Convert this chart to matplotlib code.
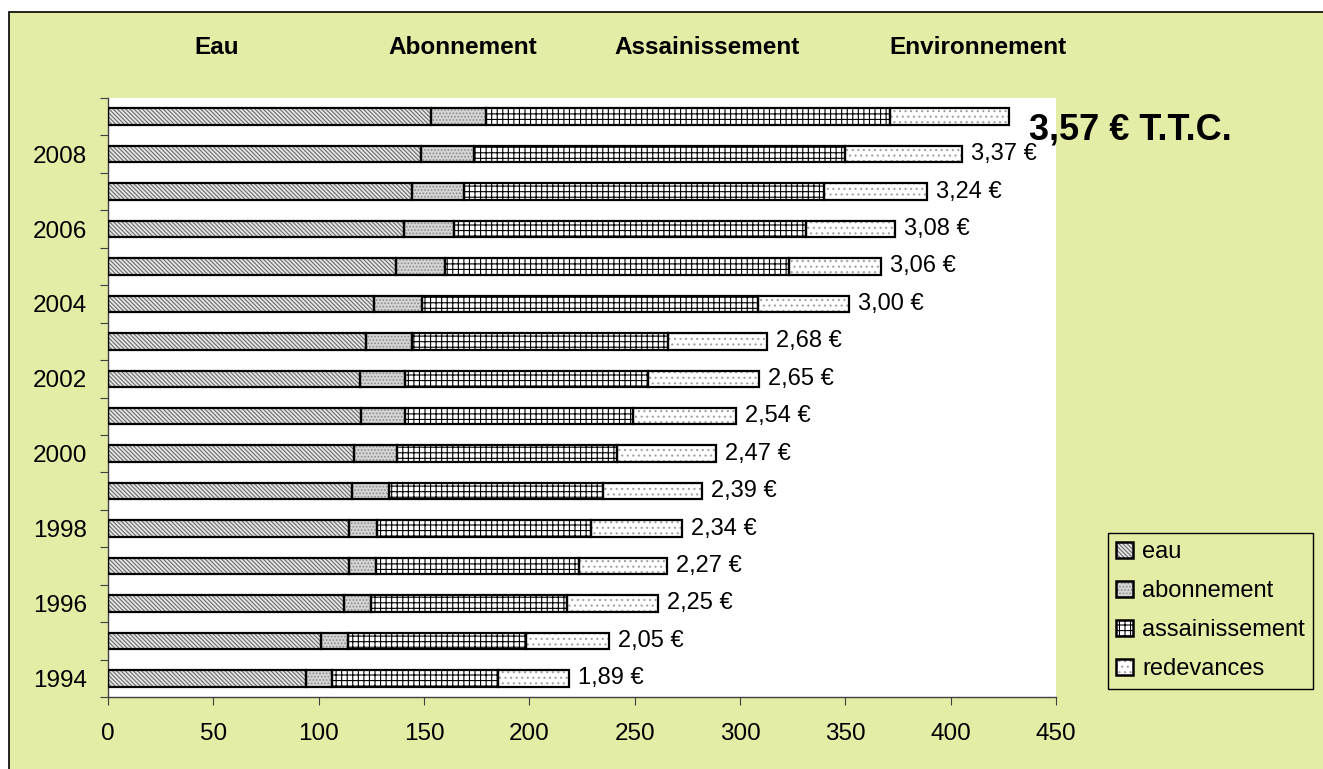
import numpy as np
import matplotlib.pyplot as plt
from matplotlib.patches import Patch, Rectangle

plt.rcParams['font.family'] = ['Liberation Sans', 'DejaVu Sans']
plt.rcParams['hatch.linewidth'] = 0.8

# prix du m3 et decomposition de la facture
annees = list(range(1994, 2010))
eau = [93.9, 101.1, 111.9, 114.3, 114.6, 116.0, 117.0, 120.3,
       119.5, 122.7, 126.3, 136.8, 140.4, 144.3, 148.6, 153.4]
abonnement = [12.5, 13.0, 13.0, 13.1, 13.1, 17.6, 20.1, 20.7,
              21.5, 21.8, 22.7, 23.1, 23.9, 24.6, 25.2, 26.1]
assainissement = [78.6, 84.4, 92.9, 96.2, 101.5, 101.3, 104.3, 108.0,
                  115.3, 121.4, 159.5, 163.3, 167.0, 170.9, 176.2, 191.8]
redevances = [34.0, 39.4, 43.2, 41.7, 43.2, 47.2, 47.3, 48.9,
              52.7, 47.0, 43.2, 43.7, 42.5, 49.1, 55.4, 56.5]
prix = [1.89, 2.05, 2.25, 2.27, 2.34, 2.39, 2.47, 2.54,
        2.65, 2.68, 3.00, 3.06, 3.08, 3.24, 3.37, 3.57]
entetes = ['Eau', 'Abonnement', 'Assainissement', 'Environnement']

bg = '#E4ECA6'

fig = plt.figure(figsize=(13.23, 7.69), dpi=100)
fig.patch.set_facecolor('white')
fig.patches.append(Rectangle((9 / 1323, -0.01), 1.0, 1 - 12 / 769 + 0.01,
                             transform=fig.transFigure, facecolor=bg,
                             edgecolor='black', linewidth=1.2, zorder=-10))

ax = fig.add_axes([108 / 1323, 1 - 697 / 769, 948 / 1323, 599 / 769])
ax.set_facecolor('white')

y = np.arange(len(annees))
h = 0.44

series = [
    ('eau', eau, '#E6E6E6', '#6A6A6A', '\\\\\\\\\\\\\\\\'),
    ('abonnement', abonnement, '#D4D4D4', '#8C8C8C', '.....'),
    ('assainissement', assainissement, 'white', 'black', '+++'),
    ('redevances', redevances, 'white', '#A0A0A0', '...'),
]

left = np.zeros(len(annees))
handles = []
for name, vals, face, hcol, hatch in series:
    vals = np.array(vals)
    ax.barh(y, vals, left=left, height=h, color=face, edgecolor=hcol,
            hatch=hatch, linewidth=0, zorder=2)
    ax.barh(y, vals, left=left, height=h, fill=False, edgecolor='black',
            linewidth=1.6, zorder=3)
    left = left + vals
    handles.append((Patch(facecolor=face, edgecolor=hcol, hatch=hatch,
                          linewidth=0),
                    Patch(fill=False, edgecolor='black', linewidth=1.8)))

totals = left
for i, (t, p) in enumerate(zip(totals, prix)):
    txt = ('%.2f' % p).replace('.', ',') + ' €'
    if i == len(prix) - 1:
        ax.annotate(txt + ' T.T.C.', (t, i), xytext=(20, -13),
                    textcoords='offset pixels', ha='left', va='center',
                    fontsize=26, fontweight='bold', annotation_clip=False)
    else:
        ax.annotate(txt, (t, i), xytext=(9, 0), textcoords='offset pixels',
                    ha='left', va='center', fontsize=17)

ax.set_xlim(0, 450)
ax.set_ylim(-0.5, len(annees) - 0.5)
ax.set_xticks(np.arange(0, 451, 50))
ax.tick_params(axis='x', direction='out', length=6, labelsize=17.5, pad=13,
               color='#404040')
ax.set_yticks(np.arange(-0.5, len(annees), 1.0))
ax.set_yticklabels([])
ax.tick_params(axis='y', which='major', direction='out', length=6,
               color='#404040')
ax.set_yticks(y[::2], minor=True)
ax.set_yticklabels([str(a) for a in annees[::2]], minor=True)
ax.tick_params(axis='y', which='minor', length=0, labelsize=17.5, pad=15)

for s in ['top', 'right']:
    ax.spines[s].set_visible(False)
for s in ['left', 'bottom']:
    ax.spines[s].set_color('#404040')
    ax.spines[s].set_linewidth(1.0)

for txt, xc in zip(entetes, [217, 463, 707, 978]):
    fig.text(xc / 1323, 1 - 48 / 769, txt, ha='center', va='center',
             fontsize=17.5, fontweight='bold')

leg = fig.legend(handles, [s[0] for s in series], loc='upper left',
                 bbox_to_anchor=(1108 / 1323, 1 - 533 / 769), fontsize=17,
                 frameon=True, fancybox=False, edgecolor='black',
                 facecolor=bg, framealpha=1, borderpad=0.35,
                 handlelength=0.7, handleheight=0.7, handletextpad=0.4,
                 labelspacing=0.72, borderaxespad=0)
leg.get_frame().set_linewidth(1.0)

fig.savefig('out.png', dpi=100, facecolor=fig.get_facecolor())
